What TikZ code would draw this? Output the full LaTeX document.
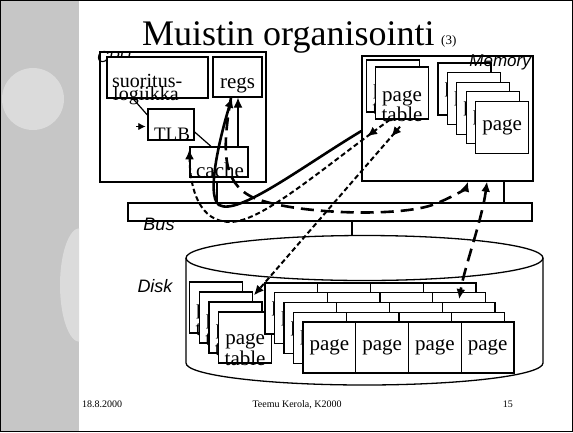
\documentclass[tikz,border=0pt]{standalone}
\usepackage{fontspec}
\setmainfont{Liberation Serif}
\setsansfont{Liberation Sans}
\usetikzlibrary{arrows.meta, positioning, calc, decorations.markings}

\begin{document}
\begin{tikzpicture}[
    x=1pt, y=-1pt,
    >={Latex[length=10pt,width=9pt]},
    box/.style={
        rectangle,
        draw=black,
        fill=white,
        line width=1.3pt,
        inner sep=0pt
    },
    pgbox/.style={box, minimum width=53pt, minimum height=52pt},
    txt/.style={font=\fontsize{21}{21}\selectfont, inner sep=0pt},
    tag/.style={font=\sffamily\itshape\fontsize{18}{18}\selectfont, inner sep=0pt},
    foot/.style={font=\fontsize{10}{10}\selectfont, inner sep=0pt},
    link/.style={line width=2.8pt},
    solidflow/.style={->, line width=2.6pt},
    longdash/.style={line width=2.6pt, dash pattern=on 13pt off 7pt},
    shortdash/.style={line width=2pt, dash pattern=on 5pt off 3pt},
    midhead/.style={
        postaction={decorate},
        decoration={markings, mark=at position #1 with {\arrow{>}}}
    }
]
% slide background
\useasboundingbox (0,0) rectangle (573,432);
\fill[gray!45] (0,0) rectangle (79,432);
\fill[gray!28] (33,99) circle (31);
\begin{scope}
    \clip (0,0) rectangle (79,432);
    \fill[gray!28] (80,285) ellipse [x radius=20, y radius=57];
\end{scope}
\draw[line width=1.2pt] (0.6,0.6) rectangle (572.4,431.4);

\node[font=\fontsize{36}{36}\selectfont, anchor=base west, inner sep=0pt] (title) at (142,45) {Muistin organisointi};
\node[font=\fontsize{13}{13}\selectfont, anchor=base west, inner sep=0pt] (part) at (441,44) {(3)};

% CPU
\node[box, minimum width=166pt, minimum height=130pt] (cpu) at (183,117) {};
\node[tag, font=\sffamily\itshape\fontsize{16}{16}\selectfont, anchor=base west] (cpulab) at (97,62) {CPU};
\node[box, minimum width=101pt, minimum height=41pt] (exec) at (157.5,77.5) {};
\node[txt, font=\fontsize{20}{20}\selectfont, anchor=base west] (exec1) at (112,87) {suoritus-};
\node[txt, font=\fontsize{20}{20}\selectfont, anchor=base west] (exec2) at (113,100) {logiikka};
\node[box, minimum width=49pt, minimum height=40pt] (regs) at (237.5,77) {};
\node[txt, anchor=base] (regs1) at (237.5,88) {regs};
\node[box, minimum width=46pt, minimum height=31pt] (tlb) at (171,124.5) {};
\node[txt, font=\fontsize{19}{19}\selectfont, anchor=base] (tlb1) at (172,140) {TLB};
\node[box, minimum width=58pt, minimum height=30pt] (cache) at (219,162) {};
\node[txt, anchor=base] (cache1) at (220,177) {cache};

% Memory
\node[box, minimum width=171pt, minimum height=125pt] (mem) at (447.5,118.5) {};
\foreach \k in {0,1} {
    \node[pgbox] (mpt\k) at (393+9*\k, 86+7*\k) {};
    \node[txt, anchor=base] (mpta\k) at ($(mpt\k.center)+(0,8)$) {page};
    \node[txt, anchor=base] (mptb\k) at ($(mpt\k.center)+(0,28)$) {table};
}
\foreach \k in {0,...,4}
    \node[pgbox, txt] (mpg\k) at (464.5+9.4*\k, 89+9.6*\k) {page};
\node[tag, font=\sffamily\itshape\fontsize{17}{17}\selectfont, anchor=base east] (memlab) at (531,66) {Memory};

% Bus
\node[box, minimum width=404pt, minimum height=18pt] (bus) at (330,212) {};
\node[tag, anchor=base] (buslab) at (159,230) {Bus};
\coordinate (cpuport) at ([xshift=34pt]cpu.south);
\coordinate (memport) at ([xshift=56.5pt]mem.south);
\draw[link] (cpuport) -- (cpuport |- bus.north);
\draw[link] (memport) -- (memport |- bus.north);

% Disk
\draw[line width=1.3pt] (186,258) -- (186,363) arc[start angle=180, end angle=0, x radius=178.5, y radius=22] -- (543,258);
\draw[line width=1.3pt] (364.5,258) ellipse [x radius=178.5, y radius=22.5];
\coordinate (diskport) at (352,235.5);
\draw[link] (diskport |- bus.south) -- (diskport);
\node[tag, anchor=base] (disklab) at (155,292) {Disk};
\foreach \k in {0,...,3} {
    \node[pgbox, minimum height=51pt] (dpt\k) at (216+9.7*\k, 307.5+10*\k) {};
    \node[txt, anchor=base] (dpta\k) at ($(dpt\k.center)+(0,6.5)$) {page};
    \node[txt, anchor=base] (dptb\k) at ($(dpt\k.center)+(0,27.5)$) {table};
}
\foreach \r in {0,...,4}
    \foreach \c in {0,...,3}
        \node[pgbox, txt, minimum width=52.75pt, minimum height=51pt] (pg\r\c) at (291.4+9.5*\r+52.75*\c, 308.5+9.75*\r) {page};

% CPU internals
\coordinate (cachetop) at ([xshift=19pt]cache.north);
\draw[->, line width=1.3pt] (cachetop) -- (cachetop |- regs.south);
\draw[line width=1.2pt] ([xshift=-24.5pt]exec.south) -- ([yshift=9.5pt]tlb.west);
\draw[line width=1.2pt] ([yshift=-7.5pt]tlb.east) -- ([xshift=-8pt]cache.north);
\draw[-{Latex[length=7pt,width=7pt]}] ([xshift=-11pt,yshift=-2pt]tlb.west) -- ([xshift=-2pt,yshift=-2pt]tlb.west);

% data flows
\draw[solidflow] ([yshift=-12.5pt]mem.west) .. controls (300,168) and (238,216) .. (219,205) .. controls (205,195) and (222,130) .. ([xshift=-5.5pt]regs.south);
\draw[longdash, ->] ([xshift=-6.5pt]regs.south) .. controls (222,150) and (222,182) .. (252,197) .. controls (290,214) and (400,218) .. (435,204) .. controls (455,196) and (466,188) .. ([xshift=20.5pt]mem.south);
\draw[shortdash, ->, midhead=0.1] ([xshift=-12pt]mpt1.south) .. controls (320,170) and (262,222) .. (230,222) .. controls (200,222) and (190,190) .. ([yshift=-3pt]cache.north west);
\draw[shortdash, ->, midhead=0.06] ([xshift=-2pt,yshift=-7pt]mpt1.south) -- ([xshift=1pt,yshift=-4pt]dpt1.north east);
\draw[longdash, <->] ([xshift=39.5pt]mem.south) .. controls (482,220) and (465,265) .. ([yshift=-7pt]pg13.north);

% footer
\node[foot, anchor=base west] (date) at (82,407) {18.8.2000};
\node[foot, anchor=base] (author) at (297,407) {Teemu Kerola, K2000};
\node[foot, anchor=base east] (pageno) at (513,407) {15};
\end{tikzpicture}
\end{document}
